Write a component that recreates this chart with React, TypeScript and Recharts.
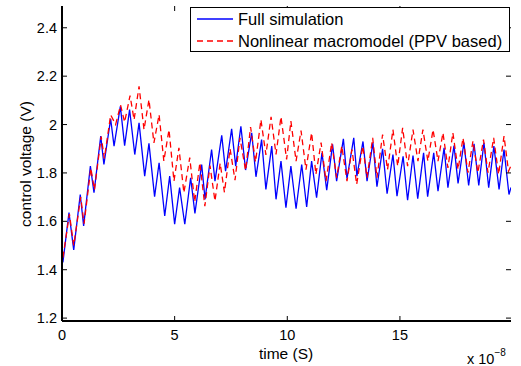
import { LineChart, Line, XAxis, YAxis } from 'recharts';

// time axis in units of 1e-8 s
const fullTime = [
  0.04, 0.31, 0.52, 0.81, 0.96, 1.26, 1.42, 1.72, 1.86, 2.16, 2.31, 2.59, 2.78, 3.0, 3.23,
  3.42, 3.67, 3.86, 4.11, 4.31, 4.56, 4.78, 5.0, 5.22, 5.45, 5.71, 5.9, 6.2, 6.35, 6.64,
  6.79, 7.09, 7.26, 7.53, 7.71, 7.94, 8.15, 8.42, 8.61, 8.86, 9.05, 9.31, 9.5, 9.72, 9.94,
  10.16, 10.39, 10.64, 10.86, 11.08, 11.3, 11.54, 11.75, 12.01, 12.19, 12.49, 12.65, 12.95, 13.09, 13.36,
  13.54, 13.8, 13.98, 14.23, 14.43, 14.69, 14.87, 15.14, 15.34, 15.58, 15.79, 16.05, 16.23, 16.5, 16.69,
  16.96, 17.13, 17.4, 17.58, 17.84, 18.05, 18.29, 18.5, 18.73, 18.94, 19.17, 19.4, 19.62, 19.84, 19.93,
];
const fullVolt = [
  1.43, 1.636, 1.482, 1.711, 1.581, 1.828, 1.718, 1.952, 1.835, 2.023, 1.911, 2.075, 1.913, 2.062, 1.876,
  2.007, 1.787, 1.922, 1.702, 1.842, 1.622, 1.787, 1.588, 1.739, 1.588, 1.78, 1.633, 1.835, 1.691, 1.897,
  1.766, 1.955, 1.807, 1.982, 1.828, 1.993, 1.812, 1.966, 1.784, 1.938, 1.732, 1.911, 1.691, 1.849, 1.656,
  1.828, 1.652, 1.835, 1.66, 1.849, 1.698, 1.883, 1.729, 1.918, 1.766, 1.941, 1.776, 1.945, 1.787, 1.93,
  1.766, 1.925, 1.743, 1.9, 1.714, 1.876, 1.704, 1.869, 1.687, 1.872, 1.694, 1.883, 1.702, 1.883, 1.725,
  1.904, 1.739, 1.913, 1.757, 1.925, 1.748, 1.92, 1.748, 1.925, 1.739, 1.911, 1.732, 1.897, 1.711, 1.74,
];

const macroTime = [
  0.04, 0.33, 0.52, 0.83, 0.98, 1.28, 1.44, 1.74, 1.88, 2.16, 2.38, 2.6, 2.78, 3.02, 3.2,
  3.42, 3.64, 3.86, 4.08, 4.31, 4.52, 4.75, 4.97, 5.19, 5.41, 5.67, 5.89, 6.12, 6.34, 6.57,
  6.79, 7.02, 7.21, 7.46, 7.68, 7.9, 8.15, 8.37, 8.59, 8.83, 9.05, 9.28, 9.5, 9.72, 9.97,
  10.16, 10.39, 10.61, 10.83, 11.08, 11.27, 11.5, 11.72, 11.97, 12.19, 12.42, 12.65, 12.87, 13.08, 13.35,
  13.54, 13.79, 13.98, 14.23, 14.45, 14.69, 14.9, 15.12, 15.34, 15.58, 15.8, 16.02, 16.24, 16.47, 16.69,
  16.91, 17.13, 17.35, 17.58, 17.8, 18.02, 18.24, 18.46, 18.71, 18.91, 19.16, 19.38, 19.62, 19.82, 19.93,
];
const macroVolt = [
  1.45, 1.63, 1.5, 1.7, 1.59, 1.82, 1.73, 1.95, 1.86, 2.04, 2.0, 2.08, 2.01, 2.12, 2.02,
  2.158, 1.979, 2.103, 1.924, 2.041, 1.849, 1.979, 1.766, 1.904, 1.718, 1.863, 1.68, 1.842, 1.663, 1.83,
  1.684, 1.84, 1.72, 1.9, 1.77, 1.945, 1.81, 1.99, 1.845, 2.02, 1.875, 2.032, 1.877, 2.032, 1.856,
  2.014, 1.849, 1.975, 1.814, 1.966, 1.794, 1.925, 1.766, 1.925, 1.78, 1.911, 1.766, 1.897, 1.753, 1.911,
  1.78, 1.945, 1.78, 1.959, 1.814, 1.979, 1.828, 1.986, 1.828, 1.979, 1.849, 1.979, 1.849, 1.979, 1.849,
  1.966, 1.821, 1.966, 1.814, 1.945, 1.801, 1.931, 1.801, 1.938, 1.801, 1.945, 1.794, 1.952, 1.807, 1.83,
];

const xTicks = [0, 5, 10, 15];
const yTicks = [1.2, 1.4, 1.6, 1.8, 2, 2.2, 2.4];

const W = 521;
const H = 366;
const PL = 62; // plot left
const PR = 511; // plot right
const PT = 6;
const PB = 321;
const FONT = '"Liberation Sans", Arial, sans-serif';

const fullData = fullTime.map((t, i) => ({ t, v: fullVolt[i] }));
const macroData = macroTime.map((t, i) => ({ t, v: macroVolt[i] }));

function YTick({ y, payload }: { y?: number; payload?: { value: number } }) {
  if (y == null || !payload) return null;
  return (
    <g>
      <line x1={PL} x2={PL + 5} y1={y} y2={y} stroke="#000" />
      <line x1={PR - 5} x2={PR} y1={y} y2={y} stroke="#000" />
      <text x={PL - 5} y={y + 5} textAnchor="end" fontSize={14.5} fontFamily={FONT} fill="#000">
        {String(payload.value)}
      </text>
    </g>
  );
}

function XTick({ x, payload }: { x?: number; payload?: { value: number } }) {
  if (x == null || !payload) return null;
  return (
    <g>
      <line x1={x} x2={x} y1={PB} y2={PB - 5} stroke="#000" />
      <line x1={x} x2={x} y1={PT} y2={PT + 5} stroke="#000" />
      <text x={x} y={340} textAnchor="middle" fontSize={14.5} fontFamily={FONT} fill="#000">
        {String(payload.value)}
      </text>
    </g>
  );
}

function LegendBox() {
  const row = { display: 'flex', alignItems: 'center', height: 22, whiteSpace: 'nowrap' as const };
  return (
    <div
      style={{
        position: 'absolute',
        left: 190,
        top: 7,
        width: 320,
        height: 45,
        border: '1px solid #000',
        background: '#fff',
        fontFamily: FONT,
        fontSize: 16.5,
        color: '#000',
        boxSizing: 'border-box',
        paddingTop: 0,
      }}
    >
      <div style={row}>
        <svg width={41} height={10} style={{ marginLeft: 6 }}>
          <line x1={0} x2={36} y1={5} y2={5} stroke="#0000ff" strokeWidth={1.3} />
        </svg>
        <span>Full simulation</span>
      </div>
      <div style={row}>
        <svg width={41} height={10} style={{ marginLeft: 6 }}>
          <line x1={0} x2={36} y1={5} y2={5} stroke="#ff0000" strokeWidth={1.3} strokeDasharray="6 4" />
        </svg>
        <span>Nonlinear macromodel (PPV based)</span>
      </div>
    </div>
  );
}

export default function App() {
  return (
    <div style={{ position: 'absolute', left: 0, top: 0, width: W, height: H, background: '#fff' }}>
      <LineChart width={W} height={H} margin={{ top: PT, right: W - PR, bottom: 0, left: 0 }}>
        <XAxis
          dataKey="t"
          type="number"
          domain={[0, 19.93]}
          ticks={xTicks}
          tick={<XTick />}
          tickLine={false}
          axisLine={{ stroke: '#000', strokeWidth: 2 }}
          height={H - PB}
          allowDataOverflow
        />
        <XAxis
          xAxisId="top"
          type="number"
          orientation="top"
          domain={[0, 19.93]}
          tick={false}
          tickLine={false}
          axisLine={{ stroke: '#000', strokeWidth: 2 }}
          height={0}
        />
        <YAxis
          type="number"
          domain={[1.188, 2.49]}
          ticks={yTicks}
          tick={<YTick />}
          tickLine={false}
          axisLine={{ stroke: '#000', strokeWidth: 2 }}
          width={PL}
          allowDataOverflow
        />
        <YAxis
          yAxisId="right"
          orientation="right"
          type="number"
          domain={[1.188, 2.49]}
          tick={false}
          tickLine={false}
          axisLine={{ stroke: '#000', strokeWidth: 2 }}
          width={0}
        />
        <Line
          data={fullData}
          dataKey="v"
          type="linear"
          stroke="#0000ff"
          strokeWidth={1.3}
          dot={false}
          isAnimationActive={false}
        />
        <Line
          data={macroData}
          dataKey="v"
          type="linear"
          stroke="#ff0000"
          strokeWidth={1.3}
          strokeDasharray="6 4"
          dot={false}
          isAnimationActive={false}
        />
        <text
          x={31}
          y={164}
          transform="rotate(-90, 31, 164)"
          textAnchor="middle"
          fontSize={15.5}
          fontFamily={FONT}
          fill="#000"
        >
          control voltage (V)
        </text>
        <text x={286} y={359} textAnchor="middle" fontSize={15.5} fontFamily={FONT} fill="#000">
          time (S)
        </text>
        <text x={467} y={364} fontSize={14.5} fontFamily={FONT} fill="#000">
          x 10
          <tspan dy={-8} fontSize={10}>
            −8
          </tspan>
        </text>
      </LineChart>
      <LegendBox />
    </div>
  );
}
